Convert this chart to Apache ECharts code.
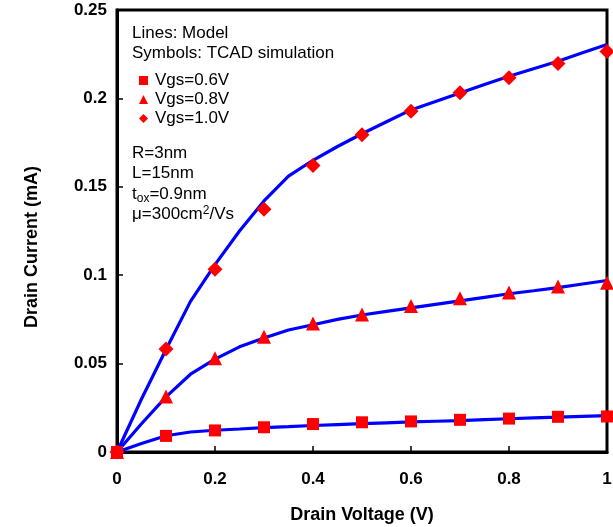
<!DOCTYPE html>
<html>
<head>
<meta charset="utf-8">
<style>
  html, body { margin: 0; padding: 0; background: #fff; }
  #chart { width: 613px; height: 527px; }
</style>
<script src="https://cdn.jsdelivr.net/npm/echarts@6/dist/echarts.min.js"></script>
</head>
<body>
<div id="chart"></div>
<script>
// drain voltage points (V)
var vdsSym = [0, 0.1, 0.2, 0.3, 0.4, 0.5, 0.6, 0.7, 0.8, 0.9, 1.0];
var vdsModel = [0, 0.05, 0.1, 0.15, 0.2, 0.25, 0.3, 0.35, 0.4, 0.45, 0.5,
  0.55, 0.6, 0.65, 0.7, 0.75, 0.8, 0.85, 0.9, 0.95, 1.0];

// TCAD simulation (mA)
var tcad06 = [0, 0.0091, 0.0122, 0.0140, 0.0158, 0.0168, 0.0173, 0.0182, 0.0189, 0.0199, 0.0201];
var tcad08 = [0, 0.0314, 0.0530, 0.0652, 0.0727, 0.0778, 0.0826, 0.0869, 0.0902, 0.0936, 0.0958];
var tcad10 = [0, 0.0583, 0.1034, 0.1373, 0.1620, 0.1795, 0.1928, 0.2032, 0.2117, 0.2197, 0.2265];

// model curves (mA)
var model06 = [0, 0.0048, 0.0092, 0.0113, 0.0123, 0.0130, 0.0138, 0.0143, 0.0150, 0.0155, 0.0160,
  0.0165, 0.0170, 0.0174, 0.0178, 0.0183, 0.0188, 0.0193, 0.0197, 0.0202, 0.0206];
var model08 = [0, 0.0160, 0.0312, 0.0440, 0.0525, 0.0595, 0.0645, 0.0690, 0.0720, 0.0750, 0.0775,
  0.0795, 0.0815, 0.0835, 0.0855, 0.0875, 0.0895, 0.0912, 0.0930, 0.0950, 0.0970];
var model10 = [0, 0.0300, 0.0580, 0.0852, 0.1060, 0.1250, 0.1420, 0.1560, 0.1650, 0.1728, 0.1800,
  0.1868, 0.1935, 0.1982, 0.2030, 0.2078, 0.2125, 0.2168, 0.2210, 0.2258, 0.2305];

var legendNames = ['Vgs=0.6V', 'Vgs=0.8V', 'Vgs=1.0V'];

var myChart = echarts.init(document.getElementById('chart'));

function pairs(xs, ys) {
  return xs.map(function(x, i) { return [x, ys[i]]; });
}

function modelLine(ys) {
  return {
    type: 'line',
    name: 'model',
    data: pairs(vdsModel, ys),
    showSymbol: false,
    symbol: 'none',
    lineStyle: { color: '#0000ff', width: 3.2 },
    z: 2
  };
}

function tcadPoints(name, ys, symbol, size) {
  return {
    type: 'scatter',
    name: name,
    data: pairs(vdsSym, ys),
    symbol: symbol,
    symbolSize: size,
    clip: false,
    itemStyle: { color: '#ff0000', opacity: 1 },
    z: 3
  };
}

var font = 'Arial, "Liberation Sans", sans-serif';
var noteStyle = { fontFamily: font, fontSize: 17, fill: '#000' };

myChart.setOption({
  animation: false,
  backgroundColor: '#fff',
  grid: {
    left: 117, top: 10, right: 6, bottom: 75,
    outerBoundsMode: 'none',
    containLabel: false,
    show: true, borderColor: '#000', borderWidth: 3
  },
  legend: {
    data: legendNames,
    orient: 'vertical',
    left: 134,
    top: 67,
    itemWidth: 9,
    itemHeight: 9,
    itemGap: 2,
    selectedMode: false,
    textStyle: { fontFamily: font, fontSize: 17, color: '#000', padding: [0, 0, 0, 2] }
  },
  xAxis: {
    type: 'value',
    min: 0, max: 1, interval: 0.2,
    name: 'Drain Voltage (V)',
    nameLocation: 'middle',
    nameGap: 54,
    nameTextStyle: { fontFamily: font, fontSize: 18, fontWeight: 'bold', color: '#000' },
    axisLine: { lineStyle: { color: '#000', width: 3 } },
    axisTick: { inside: true, length: 6, lineStyle: { color: '#000', width: 1.5 } },
    axisLabel: { fontFamily: font, fontSize: 17, fontWeight: 'bold', color: '#000', margin: 19 },
    splitLine: { show: false }
  },
  yAxis: {
    type: 'value',
    min: 0, max: 0.25, interval: 0.05,
    name: 'Drain Current (mA)',
    nameLocation: 'middle',
    nameGap: 76,
    nameTextStyle: { fontFamily: font, fontSize: 18, fontWeight: 'bold', color: '#000', padding: [0, 0, 0, -32] },
    axisLine: { lineStyle: { color: '#000', width: 3 } },
    axisTick: { inside: true, length: 6, lineStyle: { color: '#000', width: 1.5 } },
    axisLabel: { fontFamily: font, fontSize: 17, fontWeight: 'bold', color: '#000', margin: 10 },
    splitLine: { show: false }
  },
  graphic: [
    { type: 'text', left: 132, top: 25, style: Object.assign({ text: 'Lines: Model' }, noteStyle) },
    { type: 'text', left: 132, top: 45, style: Object.assign({ text: 'Symbols: TCAD simulation' }, noteStyle) },
    { type: 'text', left: 132, top: 145, style: Object.assign({ text: 'R=3nm' }, noteStyle) },
    { type: 'text', left: 132, top: 165, style: Object.assign({ text: 'L=15nm' }, noteStyle) },
    {
      type: 'text', left: 132, top: 186,
      style: {
        text: 't{sub|ox}=0.9nm',
        fontFamily: font, fontSize: 17, fill: '#000',
        rich: { sub: { fontFamily: font, fontSize: 12, verticalAlign: 'bottom', padding: [8, 0, 0, 0] } }
      }
    },
    {
      type: 'text', left: 132, top: 205,
      style: {
        text: 'μ=300cm{sup|2}/Vs',
        fontFamily: font, fontSize: 17, fill: '#000',
        rich: { sup: { fontFamily: font, fontSize: 12, verticalAlign: 'top', padding: [0, 0, 6, 0] } }
      }
    }
  ],
  series: [
    modelLine(model06),
    modelLine(model08),
    modelLine(model10),
    tcadPoints(legendNames[0], tcad06, 'rect', 12),
    tcadPoints(legendNames[1], tcad08, 'triangle', 14),
    tcadPoints(legendNames[2], tcad10, 'diamond', 15)
  ]
});
</script>
</body>
</html>
